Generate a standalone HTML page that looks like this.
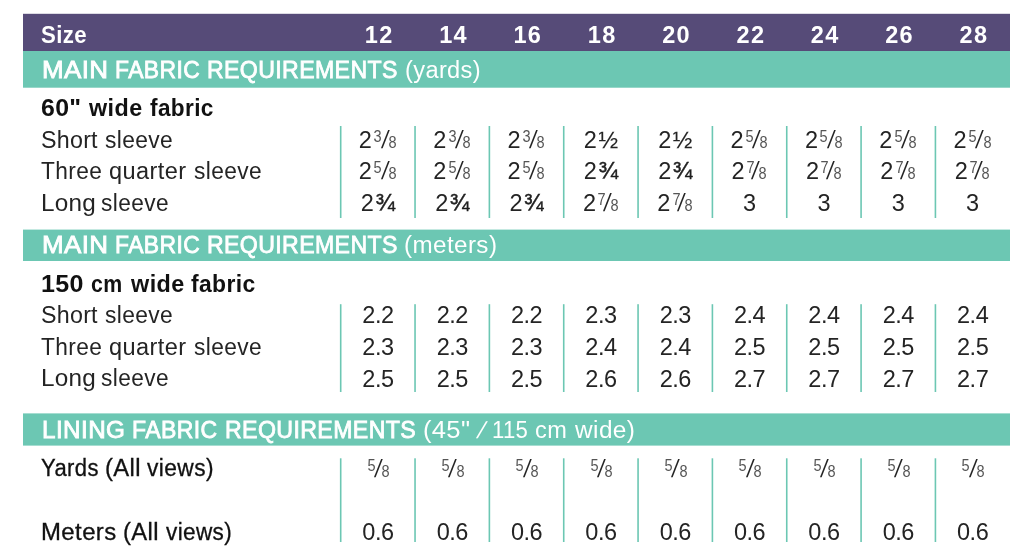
<!DOCTYPE html>
<html lang="en"><head><meta charset="utf-8"><title>Fabric requirements</title>
<style>
html,body{margin:0;padding:0;background:#fff;}
body{width:1024px;height:560px;position:relative;overflow:hidden;font-family:"Liberation Sans", sans-serif;color:#242424;}
.t,.c{position:absolute;white-space:nowrap;height:40px;line-height:0;transform-origin:0 0;}
.t:before,.c:before{content:"";display:inline-block;width:0;height:40px;}
.c{width:74.34px;text-align:center;font-size:23.5px;}
.w{color:#fff;}
.d{letter-spacing:-0.5px;}
.hn{letter-spacing:1.3px;padding-left:1.3px;}
.h{font-weight:bold;color:#111;}
.w.h{color:#fff;}
.m{-webkit-text-stroke:0.8px #fff;}
.m2{color:#111;-webkit-text-stroke:0.3px #111;}
.sup,.sub{display:inline-block;line-height:0;font-size:16.5px;color:#555;transform:scaleX(0.88);}
.sup{position:relative;top:-6px;margin:0 -0.5px 0 1.3px;}
.s7{margin-right:-2.6px;}
.uf.u2{-webkit-text-stroke-width:0.15px;}
.sl{display:inline-block;font-size:25px;line-height:0;transform:skewX(-9deg) scaleX(0.85);position:relative;top:0.2px;margin:0 -0.8px 0 -0.3px;}
.uf{margin-left:1.5px;-webkit-text-stroke:0.4px #111;}
</style></head><body>
<svg width="1024" height="560" viewBox="0 0 1024 560" style="position:absolute;left:0;top:0" aria-hidden="true"><rect x="23" y="13.8" width="987" height="37.2" fill="#564b78"/><rect x="23" y="51" width="987" height="36.7" fill="#6cc7b3"/><rect x="23" y="229.6" width="987" height="31.4" fill="#6cc7b3"/><rect x="23" y="413.4" width="987" height="32.2" fill="#6cc7b3"/><rect x="339.90" y="126.0" width="1.6" height="92.0" fill="#6cc7b3"/><rect x="339.90" y="304.2" width="1.6" height="87.8" fill="#6cc7b3"/><rect x="339.90" y="458.3" width="1.6" height="83.7" fill="#6cc7b3"/><rect x="414.24" y="126.0" width="1.6" height="92.0" fill="#6cc7b3"/><rect x="414.24" y="304.2" width="1.6" height="87.8" fill="#6cc7b3"/><rect x="414.24" y="458.3" width="1.6" height="83.7" fill="#6cc7b3"/><rect x="488.58" y="126.0" width="1.6" height="92.0" fill="#6cc7b3"/><rect x="488.58" y="304.2" width="1.6" height="87.8" fill="#6cc7b3"/><rect x="488.58" y="458.3" width="1.6" height="83.7" fill="#6cc7b3"/><rect x="562.92" y="126.0" width="1.6" height="92.0" fill="#6cc7b3"/><rect x="562.92" y="304.2" width="1.6" height="87.8" fill="#6cc7b3"/><rect x="562.92" y="458.3" width="1.6" height="83.7" fill="#6cc7b3"/><rect x="637.26" y="126.0" width="1.6" height="92.0" fill="#6cc7b3"/><rect x="637.26" y="304.2" width="1.6" height="87.8" fill="#6cc7b3"/><rect x="637.26" y="458.3" width="1.6" height="83.7" fill="#6cc7b3"/><rect x="711.60" y="126.0" width="1.6" height="92.0" fill="#6cc7b3"/><rect x="711.60" y="304.2" width="1.6" height="87.8" fill="#6cc7b3"/><rect x="711.60" y="458.3" width="1.6" height="83.7" fill="#6cc7b3"/><rect x="785.94" y="126.0" width="1.6" height="92.0" fill="#6cc7b3"/><rect x="785.94" y="304.2" width="1.6" height="87.8" fill="#6cc7b3"/><rect x="785.94" y="458.3" width="1.6" height="83.7" fill="#6cc7b3"/><rect x="860.28" y="126.0" width="1.6" height="92.0" fill="#6cc7b3"/><rect x="860.28" y="304.2" width="1.6" height="87.8" fill="#6cc7b3"/><rect x="860.28" y="458.3" width="1.6" height="83.7" fill="#6cc7b3"/><rect x="934.62" y="126.0" width="1.6" height="92.0" fill="#6cc7b3"/><rect x="934.62" y="304.2" width="1.6" height="87.8" fill="#6cc7b3"/><rect x="934.62" y="458.3" width="1.6" height="83.7" fill="#6cc7b3"/></svg>
<div id="sz0" class="t w h" style="left:40.68px;top:3px;font-size:23.5px;letter-spacing:0.380px;transform:scaleX(0.945);">Size</div>
<div id="h0" class="c w h hn" style="left:340.75px;top:3px;">12</div>
<div id="h1" class="c w h hn" style="left:415.09px;top:3px;">14</div>
<div id="h2" class="c w h hn" style="left:489.43px;top:3px;">16</div>
<div id="h3" class="c w h hn" style="left:563.77px;top:3px;">18</div>
<div id="h4" class="c w h hn" style="left:638.11px;top:3px;">20</div>
<div id="h5" class="c w h hn" style="left:712.45px;top:3px;">22</div>
<div id="h6" class="c w h hn" style="left:786.79px;top:3px;">24</div>
<div id="h7" class="c w h hn" style="left:861.13px;top:3px;">26</div>
<div id="h8" class="c w h hn" style="left:935.47px;top:3px;">28</div>
<div id="ha0" class="t w m" style="left:41.76px;top:38px;font-size:23.4px;letter-spacing:0.335px;transform:scaleX(1.109);">MAIN</div>
<div id="ha1" class="t w m" style="left:115.10px;top:38px;font-size:23.4px;letter-spacing:0.417px;transform:scaleX(0.979);">FABRIC</div>
<div id="ha2" class="t w m" style="left:207.18px;top:38px;font-size:23.4px;letter-spacing:0.401px;transform:scaleX(0.987);">REQUIREMENTS</div>
<div id="hb0" class="t w" style="left:404.51px;top:38px;font-size:23px;letter-spacing:0.351px;transform:scaleX(1.027);">(yards)</div>
<div id="sa0" class="t h" style="left:40.68px;top:76px;font-size:23px;letter-spacing:0.317px;transform:scaleX(1.082);">60"</div>
<div id="sa1" class="t h" style="left:89.34px;top:76px;font-size:23px;letter-spacing:0.427px;transform:scaleX(1.014);">wide</div>
<div id="sa2" class="t h" style="left:149.84px;top:76px;font-size:23px;letter-spacing:0.369px;transform:scaleX(0.983);">fabric</div>
<div id="ra0" class="t " style="left:40.67px;top:108px;font-size:23px;letter-spacing:0.249px;transform:scaleX(1.011);">Short</div>
<div id="ra1" class="t " style="left:104.77px;top:108px;font-size:23px;letter-spacing:0.376px;transform:scaleX(0.99);">sleeve</div>
<div id="a0_0" class="c " style="left:340.75px;top:108px;">2<span class="sup">3</span><span class="sl">/</span><span class="sub">8</span></div>
<div id="a0_1" class="c " style="left:415.09px;top:108px;">2<span class="sup">3</span><span class="sl">/</span><span class="sub">8</span></div>
<div id="a0_2" class="c " style="left:489.43px;top:108px;">2<span class="sup">3</span><span class="sl">/</span><span class="sub">8</span></div>
<div id="a0_3" class="c " style="left:563.77px;top:108px;">2<span class="uf u2">½</span></div>
<div id="a0_4" class="c " style="left:638.11px;top:108px;">2<span class="uf u2">½</span></div>
<div id="a0_5" class="c " style="left:712.45px;top:108px;">2<span class="sup">5</span><span class="sl">/</span><span class="sub">8</span></div>
<div id="a0_6" class="c " style="left:786.79px;top:108px;">2<span class="sup">5</span><span class="sl">/</span><span class="sub">8</span></div>
<div id="a0_7" class="c " style="left:861.13px;top:108px;">2<span class="sup">5</span><span class="sl">/</span><span class="sub">8</span></div>
<div id="a0_8" class="c " style="left:935.47px;top:108px;">2<span class="sup">5</span><span class="sl">/</span><span class="sub">8</span></div>
<div id="rb0" class="t " style="left:41.36px;top:139px;font-size:23px;letter-spacing:0.393px;transform:scaleX(0.986);">Three</div>
<div id="rb1" class="t " style="left:108.83px;top:139px;font-size:23px;letter-spacing:0.395px;transform:scaleX(1.023);">quarter</div>
<div id="rb2" class="t " style="left:193.55px;top:139px;font-size:23px;letter-spacing:0.379px;transform:scaleX(0.988);">sleeve</div>
<div id="a1_0" class="c " style="left:340.75px;top:139px;">2<span class="sup">5</span><span class="sl">/</span><span class="sub">8</span></div>
<div id="a1_1" class="c " style="left:415.09px;top:139px;">2<span class="sup">5</span><span class="sl">/</span><span class="sub">8</span></div>
<div id="a1_2" class="c " style="left:489.43px;top:139px;">2<span class="sup">5</span><span class="sl">/</span><span class="sub">8</span></div>
<div id="a1_3" class="c " style="left:563.77px;top:139px;">2<span class="uf">¾</span></div>
<div id="a1_4" class="c " style="left:638.11px;top:139px;">2<span class="uf">¾</span></div>
<div id="a1_5" class="c " style="left:712.45px;top:139px;">2<span class="sup s7">7</span><span class="sl">/</span><span class="sub">8</span></div>
<div id="a1_6" class="c " style="left:786.79px;top:139px;">2<span class="sup s7">7</span><span class="sl">/</span><span class="sub">8</span></div>
<div id="a1_7" class="c " style="left:861.13px;top:139px;">2<span class="sup s7">7</span><span class="sl">/</span><span class="sub">8</span></div>
<div id="a1_8" class="c " style="left:935.47px;top:139px;">2<span class="sup s7">7</span><span class="sl">/</span><span class="sub">8</span></div>
<div id="rc0" class="t " style="left:40.56px;top:171px;font-size:23px;letter-spacing:0.209px;transform:scaleX(1.056);">Long</div>
<div id="rc1" class="t " style="left:101.21px;top:171px;font-size:23px;letter-spacing:0.414px;transform:scaleX(0.985);">sleeve</div>
<div id="a2_0" class="c " style="left:340.75px;top:171px;">2<span class="uf">¾</span></div>
<div id="a2_1" class="c " style="left:415.09px;top:171px;">2<span class="uf">¾</span></div>
<div id="a2_2" class="c " style="left:489.43px;top:171px;">2<span class="uf">¾</span></div>
<div id="a2_3" class="c " style="left:563.77px;top:171px;">2<span class="sup s7">7</span><span class="sl">/</span><span class="sub">8</span></div>
<div id="a2_4" class="c " style="left:638.11px;top:171px;">2<span class="sup s7">7</span><span class="sl">/</span><span class="sub">8</span></div>
<div id="a2_5" class="c " style="left:712.45px;top:171px;">3</div>
<div id="a2_6" class="c " style="left:786.79px;top:171px;">3</div>
<div id="a2_7" class="c " style="left:861.13px;top:171px;">3</div>
<div id="a2_8" class="c " style="left:935.47px;top:171px;">3</div>
<div id="hc0" class="t w m" style="left:41.76px;top:213px;font-size:23.4px;letter-spacing:0.335px;transform:scaleX(1.109);">MAIN</div>
<div id="hc1" class="t w m" style="left:115.10px;top:213px;font-size:23.4px;letter-spacing:0.417px;transform:scaleX(0.979);">FABRIC</div>
<div id="hc2" class="t w m" style="left:207.18px;top:213px;font-size:23.4px;letter-spacing:0.401px;transform:scaleX(0.987);">REQUIREMENTS</div>
<div id="hd0" class="t w" style="left:404.29px;top:213px;font-size:23px;letter-spacing:0.390px;transform:scaleX(1.052);">(meters)</div>
<div id="sb0" class="t h" style="left:41.39px;top:252px;font-size:23px;letter-spacing:0.278px;transform:scaleX(1.089);">150</div>
<div id="sb1" class="t h" style="left:90.96px;top:252px;font-size:23px;letter-spacing:0.511px;transform:scaleX(0.926);">cm</div>
<div id="sb2" class="t h" style="left:130.94px;top:252px;font-size:23px;letter-spacing:0.434px;transform:scaleX(1.017);">wide</div>
<div id="sb3" class="t h" style="left:190.84px;top:252px;font-size:23px;letter-spacing:0.372px;transform:scaleX(0.995);">fabric</div>
<div id="rd0" class="t " style="left:40.67px;top:283px;font-size:23px;letter-spacing:0.249px;transform:scaleX(1.011);">Short</div>
<div id="rd1" class="t " style="left:104.77px;top:283px;font-size:23px;letter-spacing:0.376px;transform:scaleX(0.99);">sleeve</div>
<div id="m0_0" class="c d" style="left:340.75px;top:283px;">2.2</div>
<div id="m0_1" class="c d" style="left:415.09px;top:283px;">2.2</div>
<div id="m0_2" class="c d" style="left:489.43px;top:283px;">2.2</div>
<div id="m0_3" class="c d" style="left:563.77px;top:283px;">2.3</div>
<div id="m0_4" class="c d" style="left:638.11px;top:283px;">2.3</div>
<div id="m0_5" class="c d" style="left:712.45px;top:283px;">2.4</div>
<div id="m0_6" class="c d" style="left:786.79px;top:283px;">2.4</div>
<div id="m0_7" class="c d" style="left:861.13px;top:283px;">2.4</div>
<div id="m0_8" class="c d" style="left:935.47px;top:283px;">2.4</div>
<div id="re0" class="t " style="left:41.36px;top:315px;font-size:23px;letter-spacing:0.393px;transform:scaleX(0.986);">Three</div>
<div id="re1" class="t " style="left:108.83px;top:315px;font-size:23px;letter-spacing:0.395px;transform:scaleX(1.023);">quarter</div>
<div id="re2" class="t " style="left:193.55px;top:315px;font-size:23px;letter-spacing:0.379px;transform:scaleX(0.988);">sleeve</div>
<div id="m1_0" class="c d" style="left:340.75px;top:315px;">2.3</div>
<div id="m1_1" class="c d" style="left:415.09px;top:315px;">2.3</div>
<div id="m1_2" class="c d" style="left:489.43px;top:315px;">2.3</div>
<div id="m1_3" class="c d" style="left:563.77px;top:315px;">2.4</div>
<div id="m1_4" class="c d" style="left:638.11px;top:315px;">2.4</div>
<div id="m1_5" class="c d" style="left:712.45px;top:315px;">2.5</div>
<div id="m1_6" class="c d" style="left:786.79px;top:315px;">2.5</div>
<div id="m1_7" class="c d" style="left:861.13px;top:315px;">2.5</div>
<div id="m1_8" class="c d" style="left:935.47px;top:315px;">2.5</div>
<div id="rf0" class="t " style="left:40.56px;top:346px;font-size:23px;letter-spacing:0.209px;transform:scaleX(1.056);">Long</div>
<div id="rf1" class="t " style="left:101.21px;top:346px;font-size:23px;letter-spacing:0.414px;transform:scaleX(0.985);">sleeve</div>
<div id="m2_0" class="c d" style="left:340.75px;top:347px;">2.5</div>
<div id="m2_1" class="c d" style="left:415.09px;top:347px;">2.5</div>
<div id="m2_2" class="c d" style="left:489.43px;top:347px;">2.5</div>
<div id="m2_3" class="c d" style="left:563.77px;top:347px;">2.6</div>
<div id="m2_4" class="c d" style="left:638.11px;top:347px;">2.6</div>
<div id="m2_5" class="c d" style="left:712.45px;top:347px;">2.7</div>
<div id="m2_6" class="c d" style="left:786.79px;top:347px;">2.7</div>
<div id="m2_7" class="c d" style="left:861.13px;top:347px;">2.7</div>
<div id="m2_8" class="c d" style="left:935.47px;top:347px;">2.7</div>
<div id="he0" class="t w m" style="left:41.65px;top:398px;font-size:23.4px;letter-spacing:0.406px;transform:scaleX(1.037);">LINING</div>
<div id="he1" class="t w m" style="left:132.34px;top:398px;font-size:23.4px;letter-spacing:0.385px;transform:scaleX(0.984);">FABRIC</div>
<div id="he2" class="t w m" style="left:224.92px;top:398px;font-size:23.4px;letter-spacing:0.398px;transform:scaleX(0.989);">REQUIREMENTS</div>
<div id="hf0" class="t w" style="left:423.05px;top:398px;font-size:23px;letter-spacing:0.284px;transform:scaleX(1.111);">(45"</div>
<div id="hf1" class="t w" style="left:475.81px;top:398px;font-size:23px;transform:skewX(-18deg);transform-origin:50% 100%;">/</div>
<div id="hf2" class="t w" style="left:491.88px;top:398px;font-size:23px;letter-spacing:0.337px;transform:scaleX(0.962);">115</div>
<div id="hf3" class="t w" style="left:535.24px;top:398px;font-size:23px;letter-spacing:0.419px;transform:scaleX(1.023);">cm</div>
<div id="hf4" class="t w" style="left:574.69px;top:398px;font-size:23px;letter-spacing:0.392px;transform:scaleX(1.061);">wide)</div>
<div id="rg0" class="t m2" style="left:41.42px;top:436px;font-size:23px;letter-spacing:0.406px;transform:scaleX(0.958);">Yards</div>
<div id="rg1" class="t m2" style="left:105.20px;top:436px;font-size:23px;letter-spacing:0.353px;transform:scaleX(1.033);">(All</div>
<div id="rg2" class="t m2" style="left:147.39px;top:436px;font-size:23px;letter-spacing:0.429px;transform:scaleX(0.988);">views)</div>
<div id="y0" class="c " style="left:340.75px;top:437px;"><span class="sup">5</span><span class="sl">/</span><span class="sub">8</span></div>
<div id="y1" class="c " style="left:415.09px;top:437px;"><span class="sup">5</span><span class="sl">/</span><span class="sub">8</span></div>
<div id="y2" class="c " style="left:489.43px;top:437px;"><span class="sup">5</span><span class="sl">/</span><span class="sub">8</span></div>
<div id="y3" class="c " style="left:563.77px;top:437px;"><span class="sup">5</span><span class="sl">/</span><span class="sub">8</span></div>
<div id="y4" class="c " style="left:638.11px;top:437px;"><span class="sup">5</span><span class="sl">/</span><span class="sub">8</span></div>
<div id="y5" class="c " style="left:712.45px;top:437px;"><span class="sup">5</span><span class="sl">/</span><span class="sub">8</span></div>
<div id="y6" class="c " style="left:786.79px;top:437px;"><span class="sup">5</span><span class="sl">/</span><span class="sub">8</span></div>
<div id="y7" class="c " style="left:861.13px;top:437px;"><span class="sup">5</span><span class="sl">/</span><span class="sub">8</span></div>
<div id="y8" class="c " style="left:935.47px;top:437px;"><span class="sup">5</span><span class="sl">/</span><span class="sub">8</span></div>
<div id="rh0" class="t m2" style="left:41.04px;top:500px;font-size:23px;letter-spacing:0.394px;transform:scaleX(1.041);">Meters</div>
<div id="rh1" class="t m2" style="left:123.16px;top:500px;font-size:23px;letter-spacing:0.353px;transform:scaleX(1.033);">(All</div>
<div id="rh2" class="t m2" style="left:165.96px;top:500px;font-size:23px;letter-spacing:0.385px;transform:scaleX(0.98);">views)</div>
<div id="z0" class="c d" style="left:340.75px;top:500px;">0.6</div>
<div id="z1" class="c d" style="left:415.09px;top:500px;">0.6</div>
<div id="z2" class="c d" style="left:489.43px;top:500px;">0.6</div>
<div id="z3" class="c d" style="left:563.77px;top:500px;">0.6</div>
<div id="z4" class="c d" style="left:638.11px;top:500px;">0.6</div>
<div id="z5" class="c d" style="left:712.45px;top:500px;">0.6</div>
<div id="z6" class="c d" style="left:786.79px;top:500px;">0.6</div>
<div id="z7" class="c d" style="left:861.13px;top:500px;">0.6</div>
<div id="z8" class="c d" style="left:935.47px;top:500px;">0.6</div>
</body></html>
